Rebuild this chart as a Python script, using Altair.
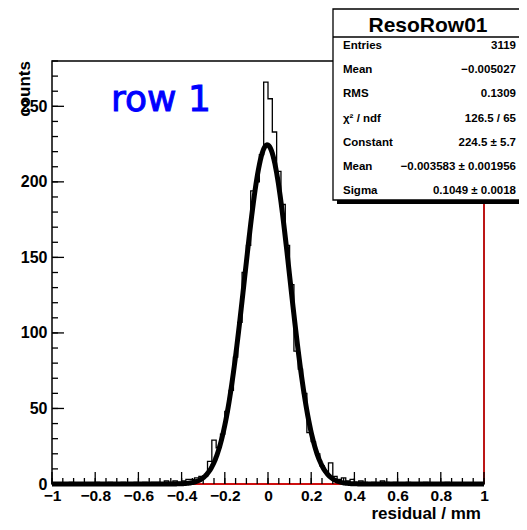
import altair as alt
import pandas as pd

# ---------------- data ----------------
bin_width = 0.02
x_min, x_max = -1.0, 1.0
counts = (
    [0, 0, 0, 0, 1, 0, 0, 0, 0, 0, 1, 0, 0, 1, 0]            # -0.99 .. -0.71
    + [0, 1, 0, 0, 1, 0, 1, 0, 1, 1, 0, 2, 1, 2, 1]          # -0.69 .. -0.41
    + [2, 3, 3, 4, 5, 5, 15, 29, 24, 33, 48, 62, 84, 107, 140, 158, 194, 200, 218, 266]  # -0.39 .. -0.01
    + [255, 233, 207, 185, 158, 132, 88, 76, 60, 34, 28, 20, 12, 8, 14, 5, 3, 4, 2, 3, 1, 2]  # 0.01 .. 0.43
    + [1, 0, 1, 0, 2, 1, 0, 1, 0, 0, 1, 0, 0, 0, 1, 0, 0, 0, 0, 1, 0, 0, 0, 0, 0, 0, 0, 0]  # 0.45 .. 0.99
)
fit_constant = 224.5
fit_mean = -0.003583
fit_sigma = 0.1049

x_major = [-1.0, -0.8, -0.6, -0.4, -0.2, 0.0, 0.2, 0.4, 0.6, 0.8, 1.0]
x_minor = [round(-1.0 + 0.05 * i, 2) for i in range(41)]
y_major = [0, 50, 100, 150, 200, 250]
y_minor = list(range(0, 281, 10))
y_max = 280

stat_title = "ResoRow01"
stat_labels = ["Entries", "Mean", "RMS", "χ² / ndf", "Constant", "Mean", "Sigma"]
stat_values = ["3119", "−0.005027", "0.1309", "126.5 / 65", "224.5 ± 5.7",
               "−0.003583 ± 0.001956", "0.1049 ± 0.0018"]

x_title = "residual / mm"
y_title = "counts"
label_text = "row 1"

# ---------------- layout ----------------
W, H = 432, 423
FONT = "Liberation Sans"

edges = [round(x_min + bin_width * i, 4) for i in range(len(counts) + 1)]
hist_df = pd.DataFrame({"x": edges, "c": counts + [counts[-1]]})

xs = alt.Scale(domain=[x_min, x_max], nice=False, zero=False)
ys = alt.Scale(domain=[0, y_max], nice=False, zero=False)

x_axis = alt.Axis(values=x_major, format="~g", labelFont=FONT, labelFontWeight="bold",
                  labelFontSize=15.5, labelPadding=4, ticks=False, tickSize=0, domain=False,
                  grid=False, title=None, labelOverlap=False, labelFlush=False,
                  labelColor="black")
y_axis = alt.Axis(values=y_major, labelFont=FONT, labelFontWeight="bold",
                  labelFontSize=16, labelPadding=5, ticks=False, tickSize=0, domain=False,
                  grid=False, title=None, labelOverlap=False, labelFlush=False,
                  labelColor="black")

one = pd.DataFrame({"a": [0]})

frame = alt.Chart(one).mark_rect(fill="white", stroke="black", strokeWidth=1.5).encode(
    x=alt.value(0), x2=alt.value(W), y=alt.value(0), y2=alt.value(H))

red_right = alt.Chart(pd.DataFrame({"x": [x_max]})).mark_rule(color="red", strokeWidth=1.3).encode(
    x=alt.X("x:Q", scale=xs, axis=x_axis), y=alt.value(0), y2=alt.value(H))
red_bottom = alt.Chart(pd.DataFrame({"y": [0]})).mark_rule(color="red", strokeWidth=1.3).encode(
    y=alt.Y("y:Q", scale=ys, axis=y_axis), x=alt.value(0), x2=alt.value(W))

hist = alt.Chart(hist_df).mark_line(interpolate="step-after", color="black", strokeWidth=1.3).encode(
    x=alt.X("x:Q", scale=xs, axis=x_axis),
    y=alt.Y("c:Q", scale=ys, axis=y_axis),
)

fit = (
    alt.Chart(alt.sequence(x_min, x_max + 0.0001, 0.004, as_="x"))
    .transform_calculate(
        f=f"{fit_constant}*exp(-0.5*pow((datum.x-({fit_mean}))/{fit_sigma},2))")
    .mark_line(color="black", strokeWidth=5)
    .encode(x=alt.X("x:Q", scale=xs, axis=x_axis), y=alt.Y("f:Q", scale=ys, axis=y_axis))
)

def xticks(vals, length):
    return alt.Chart(pd.DataFrame({"v": vals})).mark_rule(color="black", strokeWidth=1.3).encode(
        x=alt.X("v:Q", scale=xs, axis=x_axis), y=alt.value(H), y2=alt.value(H - length))

def yticks(vals, length):
    return alt.Chart(pd.DataFrame({"v": vals})).mark_rule(color="black", strokeWidth=1.3).encode(
        y=alt.Y("v:Q", scale=ys, axis=y_axis), x=alt.value(0), x2=alt.value(length))

def txt(s, x, y, **kw):
    return alt.Chart(pd.DataFrame({"t": [s]})).mark_text(**kw).encode(
        text="t:N", x=alt.value(x), y=alt.value(y))

row_label = txt(label_text, 59, 50, font="DejaVu Sans", fontSize=36, color="#0000ff",
                stroke="#0000ff", strokeWidth=1, align="left", baseline="alphabetic")
ytitle = txt(y_title, -22, 0, font=FONT, fontSize=17, fontWeight="bold", angle=270,
             align="right", baseline="alphabetic", color="black")
xtitle = txt(x_title, 429, 457.5, font=FONT, fontSize=17, fontWeight="bold",
             align="right", baseline="alphabetic", color="black")

# stats box
bx0, bx1, by0, by1 = 281, 471, -52, 139
shadow = alt.Chart(one).mark_rect(fill="black").encode(
    x=alt.value(bx0 + 4), x2=alt.value(bx1 + 4), y=alt.value(by0 + 4), y2=alt.value(by1 + 4))
box = alt.Chart(one).mark_rect(fill="white", stroke="black", strokeWidth=1.3).encode(
    x=alt.value(bx0), x2=alt.value(bx1), y=alt.value(by0), y2=alt.value(by1))
sep = alt.Chart(one).mark_rule(color="black", strokeWidth=1.3).encode(
    x=alt.value(bx0), x2=alt.value(bx1), y=alt.value(-24))
stitle = txt(stat_title, 376, -29, font=FONT, fontSize=21, fontWeight="bold",
             align="center", baseline="alphabetic", color="black")

stat_layers = []
for i, (lab, val) in enumerate(zip(stat_labels, stat_values)):
    yy = -12 + 24.2 * i
    stat_layers.append(txt(lab, 291, yy, font=FONT, fontSize=11.5, fontWeight="bold",
                           align="left", baseline="alphabetic", color="black"))
    stat_layers.append(txt(val, 464, yy, font=FONT, fontSize=11.5, fontWeight="bold",
                           align="right", baseline="alphabetic", color="black"))

chart = alt.layer(
    frame, hist, red_bottom, red_right, fit,
    xticks(x_minor, 6), xticks(x_major, 12), yticks(y_minor, 6), yticks(y_major, 12),
    row_label, ytitle, xtitle,
    shadow, box, sep, stitle, *stat_layers,
).properties(
    width=W, height=H,
    autosize=alt.AutoSizeParams(type="none"),
    padding={"left": 44, "top": 53, "right": 35, "bottom": 38},
    background="white",
).configure_view(stroke=None)

chart.save("out.html", embed_options={"renderer": "svg", "actions": False})
